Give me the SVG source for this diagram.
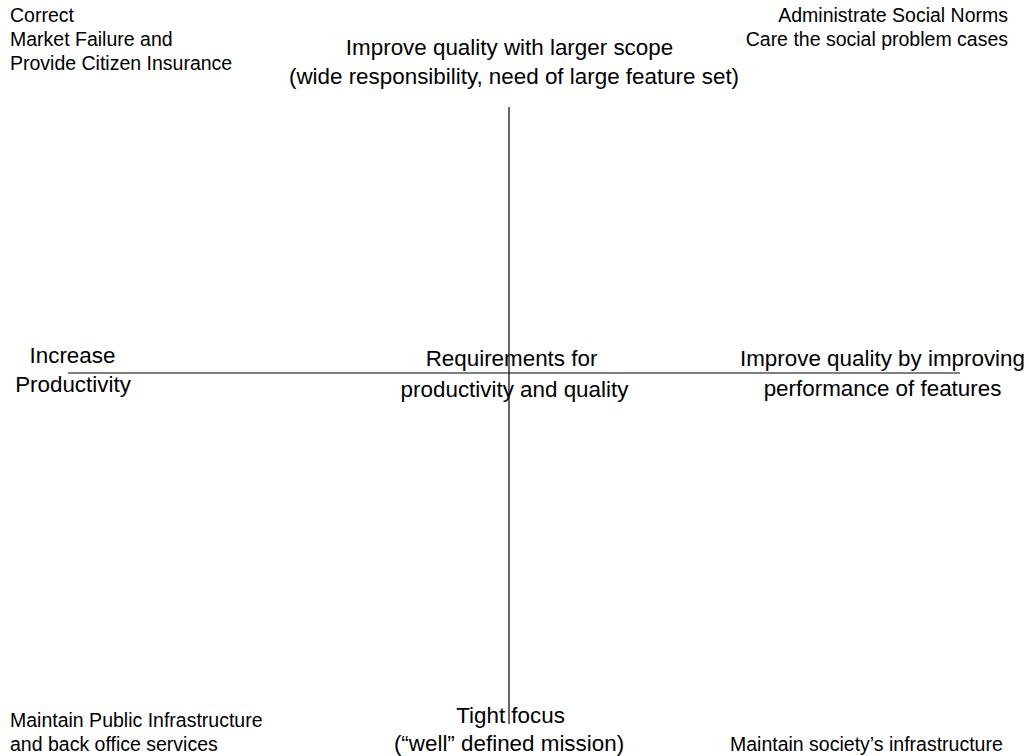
<svg xmlns="http://www.w3.org/2000/svg" width="1029" height="756" viewBox="0 0 1029 756">
<style>
text{font-family:"Liberation Sans",Arial,sans-serif;fill:#000}
.s{font-size:19.5px}
.l{font-size:22.4px}
.m{text-anchor:middle}
.e{text-anchor:end}
.ax{stroke:#000;stroke-width:1.2;fill:none}
</style>
<rect width="1029" height="756" fill="#fff"/>
<g id="connectors">
<line class="ax" x1="509" y1="107" x2="509" y2="724"/>
<line class="ax" x1="68" y1="373" x2="960" y2="373"/>
</g>
<g id="top-left"><text class="s" x="10" y="22">Correct</text><text class="s" x="10" y="46">Market Failure and</text><text class="s" x="10" y="70">Provide Citizen Insurance</text></g>
<g id="top-right"><text class="s e" x="1008" y="22">Administrate Social Norms</text><text class="s e" x="1008" y="46">Care the social problem cases</text></g>
<g id="top"><text class="l m" x="509.5" y="54.5">Improve quality with larger scope</text><text class="l m" x="514" y="84">(wide responsibility, need of large feature set)</text></g>
<g id="left"><text class="l m" x="72.5" y="363">Increase</text><text class="l m" x="73" y="392">Productivity</text></g>
<g id="center"><text class="l m" x="511.5" y="366">Requirements for</text><text class="l m" x="514.5" y="396.5">productivity and quality</text></g>
<g id="right"><text class="l m" x="882.5" y="366">Improve quality by improving</text><text class="l m" x="882.5" y="396">performance of features</text></g>
<g id="bottom"><text class="l m" x="510.5" y="722.5">Tight focus</text><text class="l m" x="509" y="751">(“well” defined mission)</text></g>
<g id="bottom-left"><text class="s" x="10" y="726.5">Maintain Public Infrastructure</text><text class="s" x="10" y="751">and back office services</text></g>
<g id="bottom-right"><text class="s" x="730" y="751">Maintain society’s infrastructure</text></g>
</svg>
